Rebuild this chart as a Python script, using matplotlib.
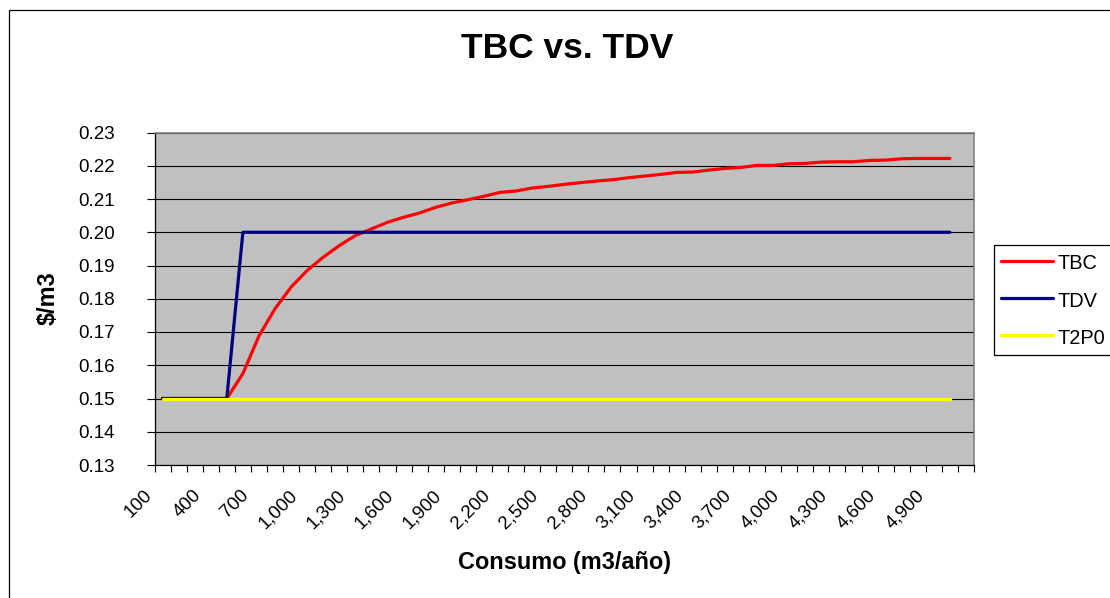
import matplotlib
matplotlib.use("Agg")
import matplotlib.pyplot as plt
import matplotlib.transforms as mtransforms
from matplotlib.patches import Rectangle
import numpy as np

plt.rcParams['font.family'] = ['Liberation Sans', 'DejaVu Sans']

# ---- data ----
consumo = list(range(100, 5100, 100))  # 100 .. 5000 m3/año
tbc = [0.1500, 0.1500, 0.1500, 0.1500, 0.1500, 0.1575, 0.1688, 0.1770, 0.1835, 0.1885,
       0.1925, 0.1960, 0.1990, 0.2010, 0.2030, 0.2045, 0.2058, 0.2075, 0.2088, 0.2098,
       0.2108, 0.2120, 0.2124, 0.2133, 0.2138, 0.2144, 0.2149, 0.2154, 0.2158, 0.2164,
       0.2169, 0.2174, 0.2180, 0.2181, 0.2187, 0.2192, 0.2195, 0.2201, 0.2201, 0.2206,
       0.2207, 0.2211, 0.2212, 0.2212, 0.2216, 0.2217, 0.2221, 0.2222, 0.2222, 0.2222]
tdv = [0.15] * 5 + [0.20] * 45
t2p0 = [0.15] * 50
series_names = ["TBC", "TDV", "T2P0"]
yticks = [0.13, 0.14, 0.15, 0.16, 0.17, 0.18, 0.19, 0.20, 0.21, 0.22, 0.23]
label_every = 3

W, H, DPI = 1110, 598, 100
fig = plt.figure(figsize=(W / DPI, H / DPI), dpi=DPI)
fig.patch.set_facecolor('white')

# outer chart-area border (clipped by figure edge on right/bottom)
fig.patches.append(Rectangle((8.5 / W, -0.1), 2.0, 1 - 10.5 / H + 0.1,
                             transform=fig.transFigure, fill=False,
                             edgecolor='black', linewidth=0.9, zorder=0))

L, R, B, T = 154.5, 974.0, 465.0, 132.5
ax = fig.add_axes([L / W, 1 - B / H, (R - L) / W, (B - T) / H])
ax.set_facecolor('#C0C0C0')

x = np.arange(len(consumo))
lw = 2.3
ax.plot(x, tbc, color='#FF0000', lw=lw, label=series_names[0], zorder=3,
        solid_joinstyle='round', solid_capstyle='round')
ax.plot(x, tdv, color='#000080', lw=lw, label=series_names[1], zorder=4,
        solid_joinstyle='round', solid_capstyle='round')
ax.plot(x, t2p0, color='#FFFF00', lw=lw, label=series_names[2], zorder=5,
        solid_joinstyle='round', solid_capstyle='round')

ax.set_xlim(-0.5, len(consumo) + 0.5)
ax.set_ylim(yticks[0], yticks[-1])
ax.set_yticks(yticks)
ax.set_yticklabels([f"{v:.2f}" for v in yticks])
ax.yaxis.grid(True, color='black', linewidth=0.8)
ax.set_axisbelow(True)

ax.tick_params(axis='y', direction='out', length=5.5, width=0.8, pad=23,
               labelsize=13.5, colors='black')

# x ticks at category boundaries, labels drawn for every 3rd category
ax.set_xticks(np.arange(-0.5, len(consumo) + 1, 1.0))
ax.set_xticklabels([])
ax.tick_params(axis='x', direction='out', length=5, width=0.8)

off = mtransforms.ScaledTranslation(-12.5 / DPI, -28.0 / DPI, fig.dpi_scale_trans)
trans = mtransforms.blended_transform_factory(ax.transData, ax.transAxes) + off
for i in range(0, len(consumo), label_every):
    ax.text(i, 0, f"{consumo[i]:,}", transform=trans, rotation=45,
            rotation_mode='anchor', ha='right', va='center', fontsize=13.5,
            clip_on=False)

for s in ['left', 'bottom']:
    ax.spines[s].set_color('black')
    ax.spines[s].set_linewidth(0.9)
for s in ['top', 'right']:
    ax.spines[s].set_color('#808080')
    ax.spines[s].set_linewidth(1.2)

ax.set_title("TBC vs. TDV", fontsize=25.5, fontweight='bold',
             x=(567 - L) / (R - L), y=(B - 66) / (B - T), va='baseline')
ax.set_xlabel("Consumo (m3/año)", fontsize=16.9, fontweight='bold')
ax.xaxis.set_label_coords((564 - L) / (R - L), (B - 550.6) / (B - T))
ax.set_ylabel("$/m3", fontsize=16.9, fontweight='bold')
ax.yaxis.set_label_coords((59.5 - L) / (R - L), (B - 298) / (B - T))

leg = fig.legend(loc='upper left', bbox_to_anchor=(994 / W, 1 - 245 / H),
                 fontsize=14.4, handlelength=2.6, handleheight=1.25,
                 handletextpad=0.25, borderpad=0.35, labelspacing=0.8,
                 frameon=True, fancybox=False, edgecolor='black',
                 framealpha=1.0, borderaxespad=0)
leg.get_frame().set_linewidth(0.9)

fig.savefig("out.png", dpi=DPI)
